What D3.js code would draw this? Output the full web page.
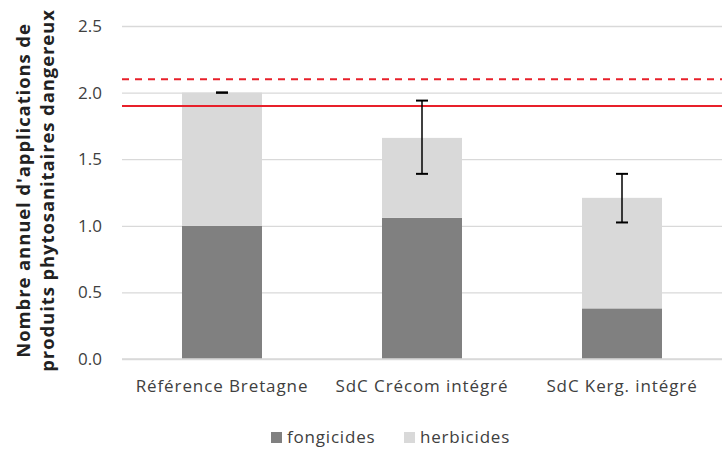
<!DOCTYPE html>
<html>
<head>
<meta charset="utf-8">
<script src="https://cdn.jsdelivr.net/npm/d3@7"></script>
<style>
  body { margin: 0; background: #fff; }
  text { font-family: "Open Sans", "Noto Sans", sans-serif; }
</style>
</head>
<body>
<div id="chart"></div>
<script>
// data
var categories = ["Référence Bretagne", "SdC Crécom intégré", "SdC Kerg. intégré"];
var fongicides = [1.0, 1.06, 0.38];
var herbicides = [1.0, 0.60, 0.83];
var errLow = [2.0, 1.39, 1.025];
var errHigh = [2.0, 1.94, 1.39];
var refSolid = 1.9;
var refDashed = 2.1;
var yTicks = [0, 0.5, 1.0, 1.5, 2.0, 2.5];
var seriesNames = ["fongicides", "herbicides"];
var seriesColors = ["#808080", "#d9d9d9"];

var width = 722, height = 453;
var margin = {top: 26, right: 0, bottom: 94, left: 122};
var innerW = width - margin.left - margin.right,
    innerH = height - margin.top - margin.bottom;

var svg = d3.select("#chart").append("svg")
    .attr("width", width)
    .attr("height", height);

var g = svg.append("g")
    .attr("transform", "translate(" + margin.left + "," + margin.top + ")");

var x = d3.scaleBand()
    .domain(categories)
    .range([0, innerW])
    .paddingInner(0.6)
    .paddingOuter(0.3);
var y = d3.scaleLinear()
    .domain([0, 2.5])
    .range([innerH, 0]);

// gridlines + tick labels
var yAxis = g.append("g")
    .call(d3.axisLeft(y).tickValues(yTicks).tickFormat(d3.format(".1f"))
        .tickSize(-innerW).tickPadding(20));
yAxis.select(".domain").remove();
yAxis.selectAll(".tick line").attr("stroke", "#d9d9d9").attr("stroke-width", 1.3);
yAxis.selectAll(".tick text").attr("fill", "#404040").style("font-size", "17px");

// stacked bars
var stackData = categories.map(function(c, i) {
    return {cat: c, fongicides: fongicides[i], herbicides: herbicides[i]};
});
var stacked = d3.stack().keys(seriesNames)(stackData);

g.selectAll(".series")
    .data(stacked)
    .enter().append("g")
    .attr("fill", function(d, i) { return seriesColors[i]; })
    .selectAll("rect")
    .data(function(d) { return d; })
    .enter().append("rect")
    .attr("x", function(d) { return x(d.data.cat); })
    .attr("y", function(d) { return y(d[1]); })
    .attr("width", x.bandwidth())
    .attr("height", function(d) { return y(d[0]) - y(d[1]); });

// x axis line
g.append("line")
    .attr("x1", 0).attr("x2", innerW)
    .attr("y1", y(0)).attr("y2", y(0))
    .attr("stroke", "#d9d9d9").attr("stroke-width", 1.3);

// category labels
g.selectAll(".cat")
    .data(categories)
    .enter().append("text")
    .attr("x", function(d) { return x(d) + x.bandwidth() / 2; })
    .attr("y", y(0) + 33)
    .attr("text-anchor", "middle")
    .attr("fill", "#404040")
    .style("font-size", "17px")
    .style("letter-spacing", "0.9px")
    .text(function(d) { return d; });

// reference lines
g.append("line")
    .attr("x1", 0).attr("x2", innerW)
    .attr("y1", y(refSolid)).attr("y2", y(refSolid))
    .attr("stroke", "#e8202a").attr("stroke-width", 2);
g.append("line")
    .attr("x1", 0).attr("x2", innerW)
    .attr("y1", y(refDashed)).attr("y2", y(refDashed))
    .attr("stroke", "#e8202a").attr("stroke-width", 2)
    .attr("stroke-dasharray", "7,6");

// error bars
var errs = g.selectAll(".err")
    .data(categories)
    .enter().append("g")
    .attr("transform", function(d) { return "translate(" + (x(d) + x.bandwidth() / 2) + ",0)"; });
errs.append("line")
    .attr("y1", function(d, i) { return y(errLow[i]); })
    .attr("y2", function(d, i) { return y(errHigh[i]); })
    .attr("stroke", "#000").attr("stroke-width", 1.5);
errs.append("line")
    .attr("x1", -6).attr("x2", 6)
    .attr("y1", function(d, i) { return y(errLow[i]); })
    .attr("y2", function(d, i) { return y(errLow[i]); })
    .attr("stroke", "#000").attr("stroke-width", 2);
errs.append("line")
    .attr("x1", -6).attr("x2", 6)
    .attr("y1", function(d, i) { return y(errHigh[i]); })
    .attr("y2", function(d, i) { return y(errHigh[i]); })
    .attr("stroke", "#000").attr("stroke-width", 2);

// y axis title
var title = svg.append("text")
    .attr("transform", "translate(30," + (margin.top + innerH / 2 - 2) + ") rotate(-90)")
    .attr("text-anchor", "middle")
    .attr("fill", "#222")
    .style("font-size", "18.5px")
    .style("font-weight", "bold")
    .style("letter-spacing", "0.9px");
title.append("tspan").attr("x", 0).attr("dy", 0).text("Nombre annuel d'applications de");
title.append("tspan").attr("x", 0).attr("dy", 24).text("produits phytosanitaires dangereux");

// legend
var legend = svg.append("g").attr("transform", "translate(271,437)");
var items = legend.selectAll(".item")
    .data(seriesNames)
    .enter().append("g")
    .attr("transform", function(d, i) { return "translate(" + (i * 133) + ",0)"; });
items.append("rect")
    .attr("x", 0).attr("y", -5)
    .attr("width", 11).attr("height", 11)
    .attr("fill", function(d, i) { return seriesColors[i]; });
items.append("text")
    .attr("x", 16).attr("y", 6)
    .attr("fill", "#404040")
    .style("font-size", "17px")
    .style("letter-spacing", "0.8px")
    .text(function(d) { return d; });
</script>
</body>
</html>
